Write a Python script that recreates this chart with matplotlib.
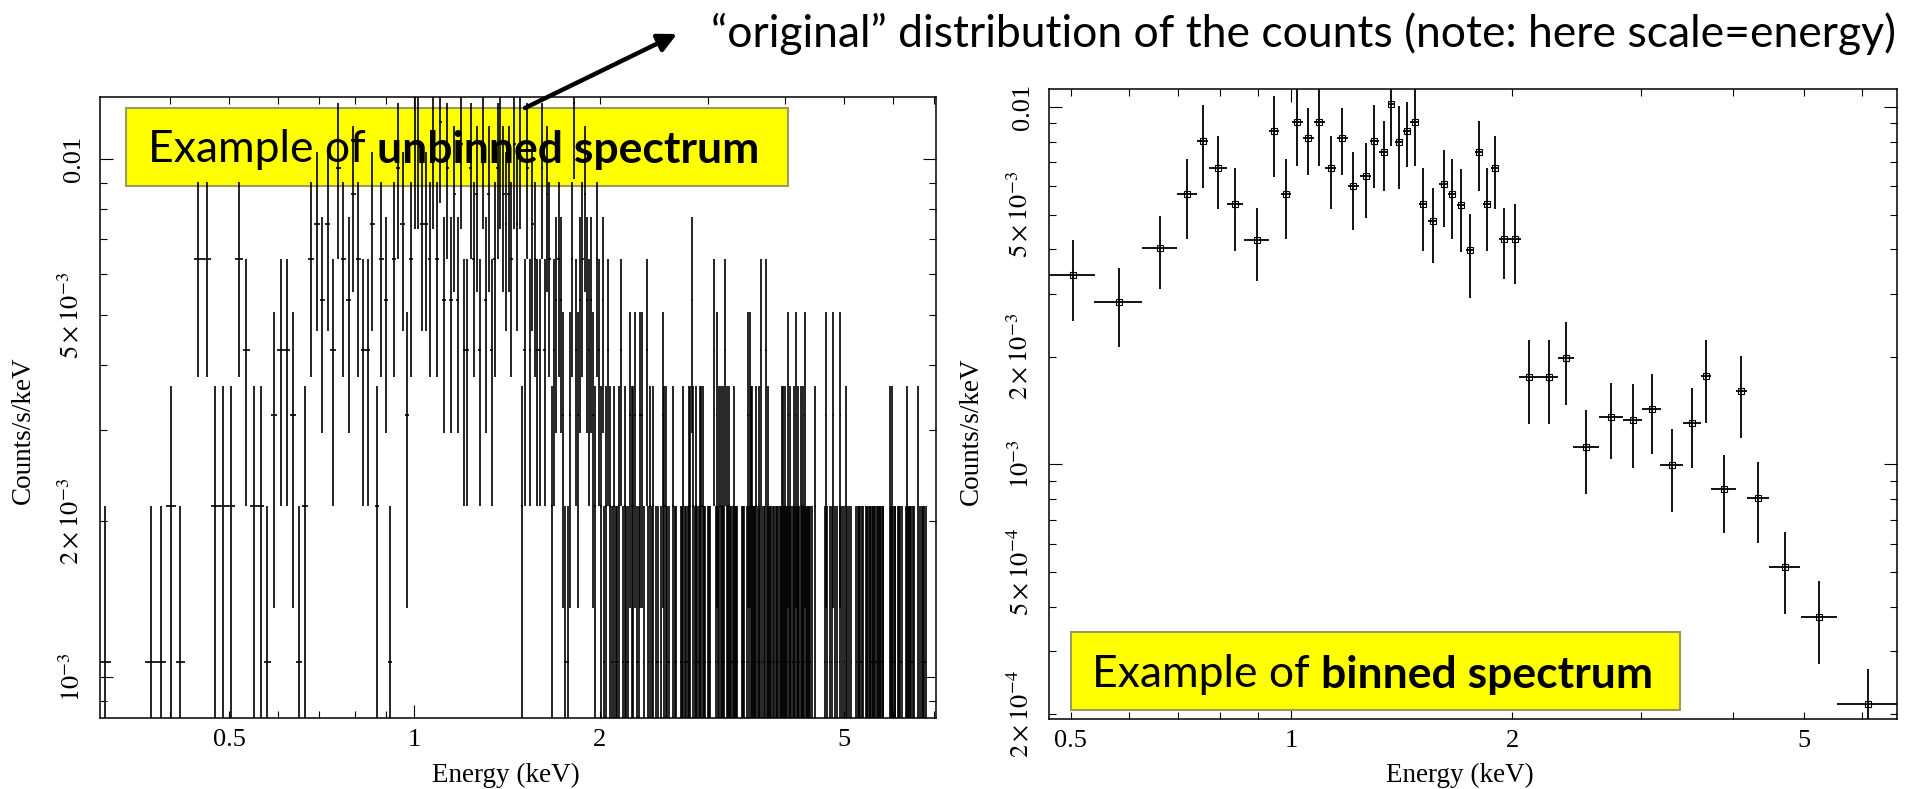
import numpy as np
import matplotlib
matplotlib.use('Agg')
import matplotlib.pyplot as plt
from matplotlib.ticker import LogLocator, FuncFormatter
from matplotlib.patches import Rectangle

# ---------------- unbinned spectrum (left) ----------------
# 14.6 eV channels; the rate of a single count in one channel
chan_width = 0.0146
rate_unit = 1.07e-3

# channel numbers grouped by the number of counts they hold
ch_n1 = [21, 25, 26, 28, 39, 44, 62, 120, 121, 139, 143, 145, 146, 149, 151, 152, 157, 158,
         161, 164, 166, 169, 170, 172, 176, 177, 181, 182, 185, 186, 188, 189, 190, 195, 197, 198,
         202, 203, 205, 206, 207, 211, 213, 216, 218, 221, 223, 224, 225, 227, 228, 229, 233, 234,
         235, 237, 239, 243, 244, 245, 247, 249, 251, 253, 254, 256, 258, 259, 260, 262, 263, 265,
         266, 267, 269, 270, 273, 275, 276, 278, 280, 282, 284, 286, 287, 289, 292, 294, 296, 297,
         299, 300, 301, 303, 318, 321, 324, 326, 330, 333, 336, 339, 342, 345, 348, 351, 358, 360,
         362, 363, 365, 367, 371, 373, 374, 376, 377, 379, 381, 382, 384, 386, 388, 390, 391, 393,
         395, 396, 408, 411, 413, 414, 419, 420, 422, 424, 431, 434, 436, 438, 440, 442, 444, 454,
         457, 460, 462, 464]
ch_n2 = [27, 32, 33, 34, 37, 38, 45, 59, 102, 114, 134, 137, 140, 142, 144, 147, 150, 154, 155,
         165, 167, 174, 175, 180, 187, 191, 192, 194, 196, 199, 200, 201, 214, 215, 217, 220, 222,
         226, 241, 242, 246, 248, 257, 271, 272, 274, 279, 283, 288, 291, 293, 307, 344, 406, 409,
         433, 451]
ch_n3 = [40, 43, 66, 119, 122, 126, 133, 153, 156, 159, 160, 173, 212, 238, 240, 277, 285, 295,
         319, 328, 337]
ch_n4 = [36, 41, 42, 50, 56, 57, 82, 83, 87, 91, 103, 105, 108, 109, 111, 115, 125, 131, 136,
         141, 148, 163, 210, 219, 250, 255]
ch_n5 = [48, 53, 61, 76, 78, 80, 89, 116, 118, 127, 130, 132, 138, 193]
ch_n6 = [30, 31, 35, 46, 52, 55, 60, 63, 67, 72, 74, 85, 92, 98, 107, 113, 117, 123, 128, 135]
ch_n7 = [47, 49, 58, 65, 70, 71, 96, 100, 106]
ch_n8 = [54, 79, 86, 90, 95, 97, 112, 129]
ch_n9 = [51, 64, 77, 84, 93, 104, 110]
ch_n10 = [68, 69, 73, 81, 88, 94, 99, 101]
ch_n11 = [75]
ch_n12 = [124]

# ---------------- binned spectrum (right) ----------------
bin_energy = [0.503, 0.582, 0.662, 0.721, 0.757, 0.795, 0.838, 0.897, 0.948, 0.984,
              1.019, 1.055, 1.092, 1.131, 1.174, 1.215, 1.262, 1.298, 1.336, 1.369,
              1.400, 1.436, 1.472, 1.510, 1.558, 1.613, 1.654, 1.702, 1.751, 1.801,
              1.847, 1.894, 1.948, 2.017, 2.112, 2.246, 2.369, 2.524, 2.730, 2.920,
              3.100, 3.300, 3.520, 3.680, 3.890, 4.110, 4.330, 4.710, 5.250, 6.120]
bin_halfwidth = [0.037, 0.044, 0.036, 0.023, 0.013, 0.022, 0.022, 0.036, 0.015, 0.016,
                 0.018, 0.018, 0.019, 0.020, 0.021, 0.021, 0.021, 0.017, 0.018, 0.016,
                 0.015, 0.018, 0.019, 0.019, 0.022, 0.022, 0.021, 0.022, 0.023, 0.023,
                 0.022, 0.024, 0.027, 0.040, 0.070, 0.064, 0.059, 0.103, 0.103, 0.088,
                 0.093, 0.118, 0.100, 0.058, 0.150, 0.070, 0.150, 0.230, 0.300, 0.570]
bin_rate = [3.38e-3, 2.84e-3, 4.03e-3, 5.71e-3, 8.03e-3, 6.75e-3, 5.35e-3, 4.24e-3, 8.57e-3, 5.71e-3,
            9.08e-3, 8.19e-3, 9.08e-3, 6.75e-3, 8.19e-3, 6.01e-3, 6.41e-3, 8.03e-3, 7.48e-3, 1.02e-2,
            7.98e-3, 8.57e-3, 9.08e-3, 5.35e-3, 4.80e-3, 6.09e-3, 5.71e-3, 5.32e-3, 3.98e-3, 7.48e-3,
            5.35e-3, 6.75e-3, 4.27e-3, 4.27e-3, 1.76e-3, 1.76e-3, 1.99e-3, 1.12e-3, 1.36e-3, 1.33e-3,
            1.43e-3, 9.94e-4, 1.31e-3, 1.77e-3, 8.51e-4, 1.60e-3, 8.08e-4, 5.15e-4, 3.75e-4, 2.13e-4]
bin_err = [8.55e-4, 7.15e-4, 9.35e-4, 1.44e-3, 2.10e-3, 1.57e-3, 1.40e-3, 9.7e-4, 2.18e-3, 1.44e-3,
           2.23e-3, 1.73e-3, 2.23e-3, 1.56e-3, 1.73e-3, 1.49e-3, 1.52e-3, 2.10e-3, 1.65e-3, 2.42e-3,
           2.09e-3, 1.78e-3, 2.23e-3, 1.40e-3, 1.14e-3, 1.48e-3, 1.44e-3, 1.39e-3, 1.05e-3, 1.65e-3,
           1.40e-3, 1.56e-3, 9.6e-4, 1.08e-3, 4.65e-4, 4.65e-4, 5.2e-4, 2.96e-4, 3.27e-4, 3.5e-4,
           3.6e-4, 2.6e-4, 3.3e-4, 4.65e-4, 2.1e-4, 4.15e-4, 2.05e-4, 1.34e-4, 9.8e-5, 5.5e-5]

x_labels = {0.5: '0.5', 1.0: '1', 2.0: '2', 5.0: '5'}
y_labels = {1e-2: '0.01', 5e-3: r'$5\times10^{-3}$', 2e-3: r'$2\times10^{-3}$', 1e-3: r'$10^{-3}$',
            5e-4: r'$5\times10^{-4}$', 2e-4: r'$2\times10^{-4}$'}

plt.rcParams['font.family'] = ['Liberation Serif', 'DejaVu Serif']
plt.rcParams['mathtext.fontset'] = 'stix'

W, H = 1905, 789
fig = plt.figure(figsize=(W / 100, H / 100), dpi=100)


def px_axes(x0, y0, x1, y1):
    # axes placed by pixel box (top-left origin)
    return fig.add_axes([x0 / W, 1 - y1 / H, (x1 - x0) / W, (y1 - y0) / H])


def fig_xy(x, y):
    return x / W, 1 - y / H


def label_fmt(table):
    def f(v, pos):
        for k, s in table.items():
            if abs(v / k - 1) < 1e-6:
                return s
        return ''
    return FuncFormatter(f)


def style_axes(ax):
    ax.set_xscale('log')
    ax.set_yscale('log')
    for axis, table in ((ax.xaxis, x_labels), (ax.yaxis, y_labels)):
        axis.set_major_locator(LogLocator(base=10, numticks=30))
        axis.set_minor_locator(LogLocator(base=10, subs=np.arange(2, 10), numticks=30))
        axis.set_major_formatter(label_fmt(table))
        axis.set_minor_formatter(label_fmt(table))
    ax.tick_params(which='both', direction='in', top=True, right=True, width=0.8,
                   labelsize=19, color='k')
    ax.tick_params(which='major', length=9.5)
    ax.tick_params(which='minor', length=5)
    ax.tick_params(axis='y', which='both', labelrotation=90, pad=11)
    ax.tick_params(axis='x', which='both', pad=8)
    for sp in ax.spines.values():
        sp.set_linewidth(1.1)
    ax.set_xlabel('Energy (keV)', fontsize=19.5)
    ax.set_ylabel('Counts/s/keV', fontsize=19.5)
    ax.xaxis.label.set_verticalalignment('center')
    ax.yaxis.label.set_verticalalignment('center')


def center_ylabels(ax):
    # rotated tick labels centred on their ticks
    for lab in ax.yaxis.get_majorticklabels() + ax.yaxis.get_minorticklabels():
        lab.set_verticalalignment('center')


ax1 = px_axes(100, 97, 936, 718)
ax2 = px_axes(1049, 89, 1897, 719)
style_axes(ax1)
style_axes(ax2)

# left: every non-empty channel with its Poisson error
groups = [ch_n1, ch_n2, ch_n3, ch_n4, ch_n5, ch_n6, ch_n7, ch_n8, ch_n9, ch_n10, ch_n11, ch_n12]
chans = np.concatenate([np.array(g) for g in groups])
counts = np.concatenate([np.full(len(g), i + 1) for i, g in enumerate(groups)])
energy = (chans + 0.5) * chan_width
rate = counts * rate_unit
err = np.sqrt(counts) * rate_unit
err_lo = np.minimum(err, rate - 1e-7)
ax1.errorbar(energy, rate, xerr=chan_width / 2, yerr=[err_lo, err], fmt='none',
             ecolor='k', elinewidth=1.2, capsize=0, zorder=3)
ax1.set_xlim(0.308, 7.05)
ax1.set_ylim(8.33e-4, 1.318e-2)
ax1.xaxis.set_label_coords(0.4856, -0.092)
ax1.yaxis.set_label_coords(-0.092, 0.464)

# right: grouped bins
ax2.errorbar(bin_energy, bin_rate, xerr=bin_halfwidth, yerr=bin_err, fmt='s', ms=4.5,
             mfc='none', mec='k', mew=0.8, ecolor='k', elinewidth=1.3, capsize=0, zorder=3)
ax2.set_xlim(0.467, 6.70)
ax2.set_ylim(1.94e-4, 1.123e-2)
ax2.xaxis.set_label_coords(0.4847, -0.089)
ax2.yaxis.set_label_coords(-0.091, 0.457)

center_ylabels(ax1)
center_ylabels(ax2)

# yellow call-out boxes
box_font = 'Lato'
box_size = 32
edge = '#9b9b60'

x0, y0 = fig_xy(126, 186)
ax1.add_patch(Rectangle((x0, y0), (788 - 126) / W, (186 - 108) / H, transform=fig.transFigure,
                        facecolor='#ffff00', edgecolor=edge, lw=1.5, zorder=1, clip_on=False))
t1 = ax1.text(*fig_xy(148, 162), 'Example of', transform=fig.transFigure, family=box_font,
              fontsize=box_size, va='baseline', ha='left', zorder=1.5)
ax1.annotate('unbinned spectrum', xy=(1, 0), xycoords=t1, xytext=(11, 0),
             textcoords='offset pixels', family=box_font, fontsize=box_size,
             fontweight='bold', va='bottom', ha='left', zorder=1.5)

x0, y0 = fig_xy(1071, 710)
ax2.add_patch(Rectangle((x0, y0), (1680 - 1071) / W, (710 - 632) / H, transform=fig.transFigure,
                        facecolor='#ffff00', edgecolor=edge, lw=1.5, zorder=4, clip_on=False))
t2 = ax2.text(*fig_xy(1092, 687), 'Example of', transform=fig.transFigure, family=box_font,
              fontsize=box_size, va='baseline', ha='left', zorder=5)
ax2.annotate('binned spectrum', xy=(1, 0), xycoords=t2, xytext=(11, 0),
             textcoords='offset pixels', family=box_font, fontsize=box_size,
             fontweight='bold', va='bottom', ha='left', zorder=5)

# note at the top with its arrow
fig.text(*fig_xy(711, 47), '\u201coriginal\u201d distribution of the counts (note: here scale=energy)',
         family=box_font, fontsize=32, va='baseline', ha='left')
fig.add_artist(plt.Annotation('', xy=fig_xy(677, 34), xycoords='figure fraction',
                              xytext=fig_xy(525, 108), textcoords='figure fraction',
                              arrowprops=dict(arrowstyle='-|>', lw=3.2, color='k',
                                              mutation_scale=28, shrinkA=0, shrinkB=0)))

fig.savefig('out.png', dpi=100)
